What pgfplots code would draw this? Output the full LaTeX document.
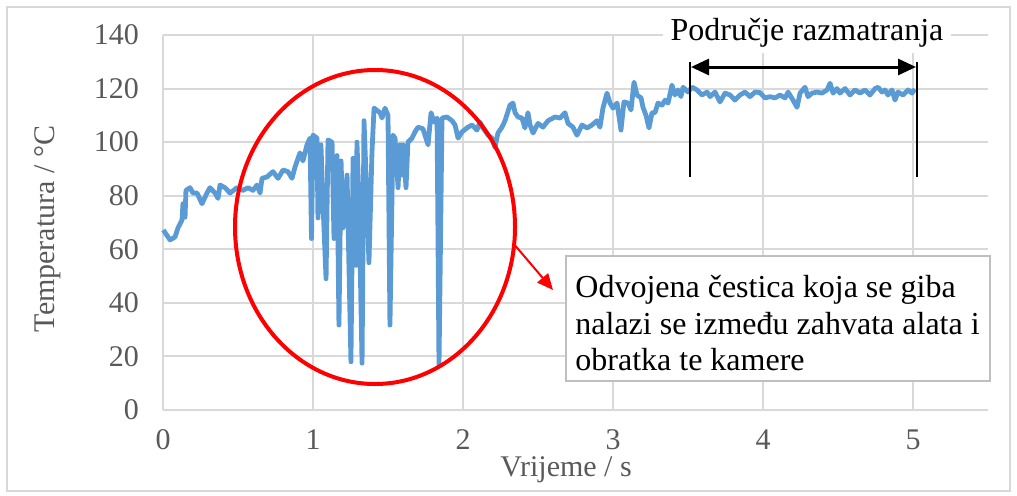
\documentclass[border=0pt]{standalone}
\usepackage{fontspec}
\setmainfont{Liberation Serif}
\usepackage{pgfplots}
\usepackage{pgfplotstable}
\pgfplotsset{compat=1.18}
\usetikzlibrary{arrows.meta}
\definecolor{lineblue}{HTML}{5B9BD5}
\definecolor{gridgray}{HTML}{D9D9D9}
\definecolor{labelgray}{HTML}{595959}
\definecolor{boxgray}{HTML}{BFBFBF}
\pgfplotstableread{
t T
0.002 67.2
0.047 63.5
0.08 64.6
0.1 68
0.127 71
0.133 77
0.147 72
0.153 82
0.18 83
0.2 81
0.227 81
0.26 77
0.293 81
0.313 83
0.347 81
0.367 79
0.38 84
0.413 83
0.447 81
0.493 83
0.533 82
0.567 83
0.6 82
0.627 84
0.647 81
0.66 86.5
0.693 87
0.733 89
0.767 86.5
0.8 89.6
0.833 89
0.86 86.5
0.88 90.7
0.913 96
0.933 93
0.96 99
0.98 101.5
0.99 64
1.0 102.6
1.027 101.5
1.033 71.7
1.053 99
1.067 76.5
1.087 49
1.1 100.8
1.127 100
1.14 64
1.16 95
1.173 31.7
1.187 93
1.2 68
1.227 87.7
1.253 18
1.267 94
1.287 54
1.293 100
1.307 77.6
1.327 17.5
1.34 108
1.36 77.6
1.373 55
1.393 96
1.407 112.7
1.447 111
1.46 109
1.48 112.7
1.5 110
1.513 31.7
1.533 102.6
1.547 101.5
1.567 83
1.58 99
1.593 87.7
1.6 99
1.62 83
1.633 100
1.66 101.5
1.68 103.8
1.7 105.6
1.733 105
1.767 99
1.787 111
1.807 107.5
1.827 109
1.84 16.8
1.86 109
1.893 109.4
1.927 108
1.947 106.4
1.967 101.5
1.993 103.8
2.033 105.6
2.06 106.4
2.093 104.5
2.113 107.5
2.133 105.3
2.167 102.6
2.193 101.5
2.213 98
2.233 103.4
2.26 105.6
2.28 108
2.313 113.8
2.333 114.6
2.347 111
2.367 109.4
2.393 109
2.413 105.3
2.433 111
2.447 106.4
2.467 103.4
2.5 107
2.533 105.6
2.567 108
2.613 109.4
2.647 109
2.68 111
2.7 107
2.733 105.6
2.76 102.6
2.793 106.4
2.827 105.3
2.86 106.4
2.893 108
2.913 105.6
2.933 112.7
2.96 118.3
2.98 114.6
3.0 112.7
3.027 114.6
3.053 104.5
3.073 115
3.1 114.6
3.12 112
3.14 122.4
3.16 117.6
3.187 116.5
3.2 113
3.22 110
3.24 105.3
3.26 111
3.28 111
3.3 114.6
3.327 113.8
3.347 115.7
3.367 114.6
3.393 121.3
3.413 117.6
3.433 119.5
3.453 117
3.467 120.5
3.5 118.7
3.527 120.5
3.56 119.5
3.593 117.6
3.627 118.7
3.647 117
3.68 118.7
3.713 115
3.747 118.3
3.78 117.6
3.813 115.7
3.847 117.6
3.88 118.7
3.913 117
3.947 118.7
3.98 118.5
4.013 116.5
4.047 117
4.08 116.5
4.113 117.6
4.147 116.5
4.167 118.7
4.2 115.7
4.227 113
4.247 118.3
4.28 120.5
4.3 117
4.327 118.3
4.36 118.7
4.393 118.3
4.427 119.5
4.447 122
4.467 118.3
4.493 120
4.513 118.3
4.547 120
4.58 117.6
4.613 119.5
4.647 118.3
4.68 119.5
4.713 117.6
4.747 120
4.767 120.5
4.793 118.7
4.813 119.5
4.833 117.6
4.86 119.5
4.88 115.7
4.9 118.7
4.933 117.6
4.967 119.5
4.993 118.3
5.013 119.8
}\datatable
\begin{document}
\begin{tikzpicture}
\useasboundingbox (0,0) rectangle (508.5pt,247.5pt);
\begin{scope}[x=0.5pt,y=0.5pt]
\draw[gridgray, line width=0.75pt] (7,4) rectangle (1010,488);
\end{scope}
\begin{axis}[
  at={(81.5pt,42.5pt)}, anchor=south west,
  scale only axis, width=412.5pt, height=187.5pt,
  xmin=0, xmax=5.5, ymin=0, ymax=140,
  xtick={0,1,2,3,4,5}, ytick={0,20,...,140},
  grid=major, major grid style={draw=gridgray, line width=1pt},
  axis line style={draw=none}, major tick length=0pt,
  tick label style={font=\fontsize{15}{18}\selectfont, text=labelgray},
  /pgf/number format/assume math mode=true,
  yticklabel style={xshift=-8.5pt},
  xticklabel style={yshift=-8.5pt, inner ysep=1pt},
  clip=false,
]
\addplot[lineblue, line width=2.4pt, line join=round, no marks] table[x=t,y=T] {\datatable};
\end{axis}
\begin{scope}[x=0.5pt,y=0.5pt, font=\fontsize{15}{18}\selectfont]
\node[text=labelgray, rotate=90] at (48,266) {Temperatura / °C};
\node[text=labelgray, inner ysep=1pt] at (566,25) {Vrijeme / s};
% ellipse and arrow
\draw[red, line width=2pt] (375,268) ellipse [x radius=70pt, y radius=78.5pt];
\draw[red, line width=1pt, -{Triangle[length=8pt,width=7pt]}] (513,252) -- (553,205);
% text box
\draw[boxgray, line width=0.75pt, fill=white] (566,239) rectangle (990,114);
\begin{scope}[font=\fontsize{16}{19}\selectfont]
\node[anchor=base west, inner sep=0pt] at (575,198) {Odvojena čestica koja se giba};
\node[anchor=base west, inner sep=0pt] at (575,161) {nalazi se između zahvata alata i};
\node[anchor=base west, inner sep=0pt] at (575,125) {obratka te kamere};
% bracket
\node[anchor=base, fill=white, inner xsep=4pt, inner ysep=3pt] at (807,455) {Područje razmatranja};
\draw[black, line width=1pt] (690,433) -- (690,318);
\draw[black, line width=1pt] (917,433) -- (917,318);
\draw[black, line width=1.5pt, {Triangle[length=9pt,width=8pt]}-{Triangle[length=9pt,width=8pt]}] (691,428) -- (916,428);
\end{scope}
\end{scope}
\end{tikzpicture}
\end{document}
